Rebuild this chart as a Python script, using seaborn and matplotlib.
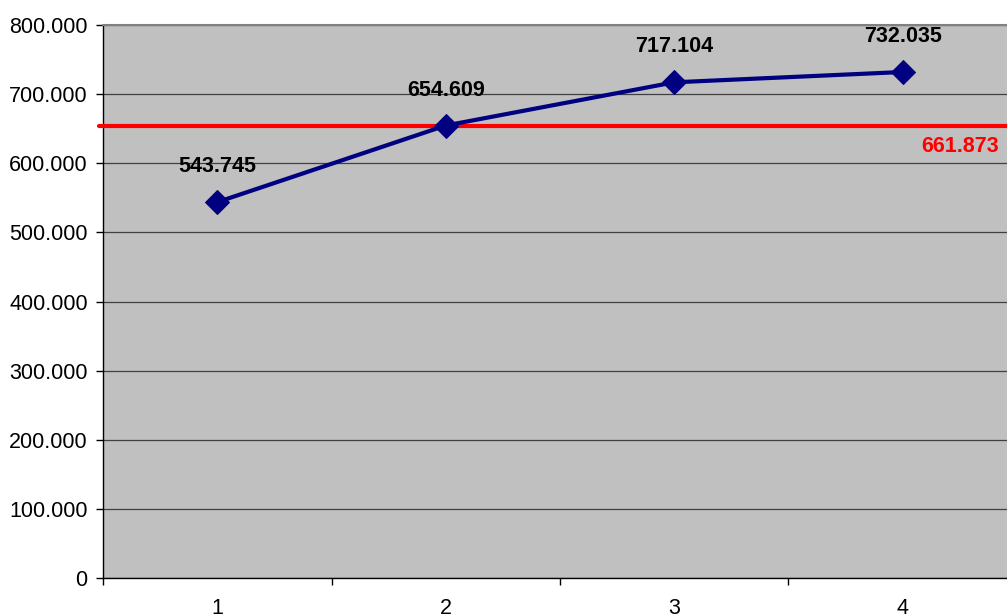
import matplotlib
matplotlib.use('Agg')
import matplotlib.pyplot as plt
from matplotlib.ticker import FuncFormatter
import seaborn as sns
import pandas as pd

# Data
periods = [1, 2, 3, 4]
values = [543745, 654609, 717104, 732035]
average_label = 661873      # value printed next to the red line
average_level = 654000      # where the red line sits on the y axis
y_ticks = [0, 100000, 200000, 300000, 400000, 500000, 600000, 700000, 800000]

sns.set_theme(style='white')
plt.rcParams['font.family'] = ['Liberation Sans', 'DejaVu Sans']

df = pd.DataFrame({'Periodo': periods, 'Valore': values})

fig = plt.figure(figsize=(10.07, 6.16), dpi=100)
ax = fig.add_axes([0.1023, 0.0617, 0.9076, 0.8977])
ax.set_facecolor('#C0C0C0')

sns.lineplot(data=df, x='Periodo', y='Valore', ax=ax, color='#000080', lw=3,
             marker='D', markersize=12, markeredgecolor='#000080', zorder=4)

# red average line
ax.axhline(average_level, color='#FF0000', lw=3, xmin=-0.004, clip_on=False, zorder=3)
ax.annotate(f'{average_label:,}'.replace(',', '.'), xy=(1, average_level),
            xycoords=('axes fraction', 'data'), xytext=(-13, -14.5),
            textcoords='offset points', ha='right', va='center',
            color='#FF0000', fontsize=15.5, fontweight='bold')

# data labels
for x, v in zip(periods, values):
    ax.annotate(f'{v:,}'.replace(',', '.'), xy=(x, v), xytext=(0, 25.5),
                textcoords='offset points', ha='center', va='center',
                fontsize=15.5, fontweight='bold', color='black')

ax.set_xlim(0.5, 4.5)
ax.set_ylim(0, 800000)
ax.set_yticks(y_ticks)
ax.yaxis.set_major_formatter(FuncFormatter(lambda v, p: '0' if v == 0 else f'{v:,.0f}'.replace(',', '.')))
ax.set_xticks(periods)
ax.set_xticks([0.5, 1.5, 2.5, 3.5, 4.5], minor=True)
ax.tick_params(axis='x', which='major', length=0, pad=14.5, labelsize=15.5, labelcolor='black')
ax.tick_params(axis='x', which='minor', length=5, width=1, color='black', direction='out', bottom=True)
ax.tick_params(axis='y', length=5, width=1, color='black', direction='out', left=True, pad=6,
               labelsize=15.5, labelcolor='black')

ax.grid(axis='y', color='#404040', lw=0.9)
ax.grid(axis='x', visible=False)
ax.set_axisbelow(True)
ax.set_xlabel('')
ax.set_ylabel('')

for side in ['left', 'bottom']:
    ax.spines[side].set_color('black')
    ax.spines[side].set_linewidth(1)
ax.spines['top'].set_color('#808080')
ax.spines['top'].set_linewidth(1.5)
ax.spines['right'].set_visible(False)

fig.savefig('out.png', dpi=100)
